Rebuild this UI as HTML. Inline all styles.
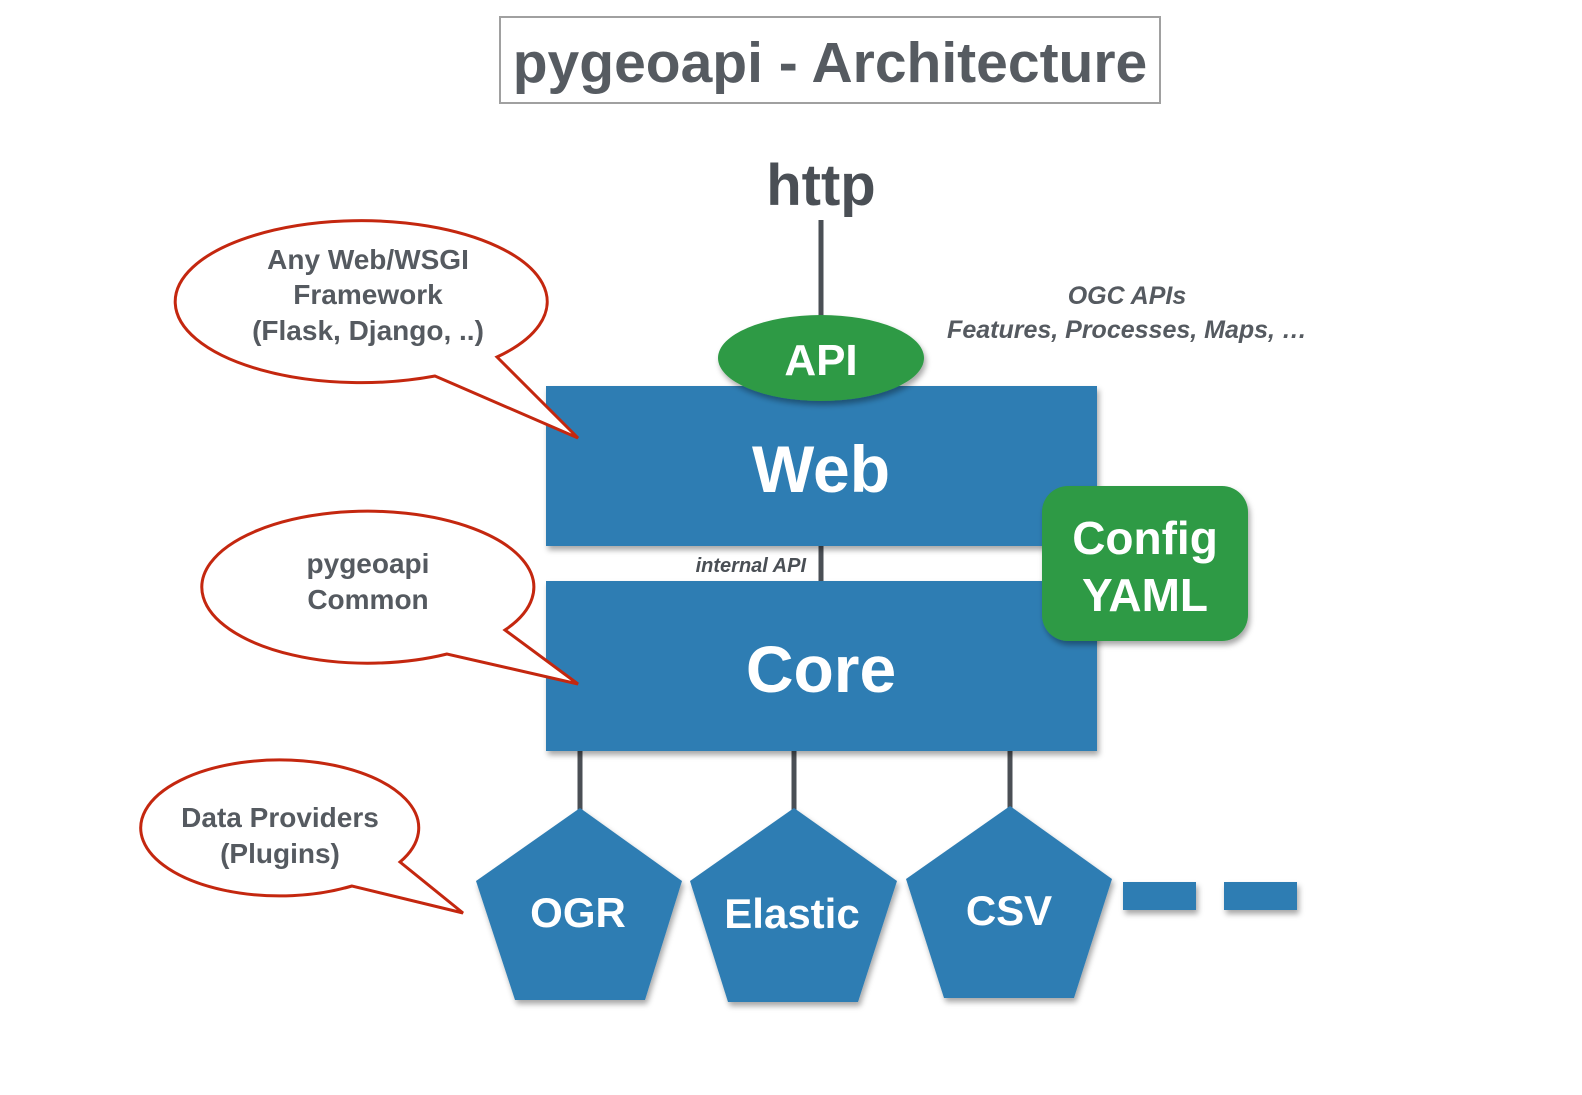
<!DOCTYPE html>
<html><head><meta charset="utf-8"><style>
html,body{margin:0;padding:0;background:#fff;}
svg{display:block;}
text{font-family:"Liberation Sans",sans-serif;font-weight:bold;}
</style></head><body>
<svg width="1582" height="1095" viewBox="0 0 1582 1095" xmlns="http://www.w3.org/2000/svg">
<defs>
<filter id="sh" x="-10%" y="-10%" width="130%" height="130%"><feDropShadow dx="2" dy="4" stdDeviation="3" flood-color="#000" flood-opacity="0.35"/></filter>
</defs>
<rect x="500" y="17" width="660" height="86" fill="#fff" stroke="#a0a0a0" stroke-width="2"/>
<text x="830" y="82" font-size="57" fill="#565b61" text-anchor="middle">pygeoapi - Architecture</text>
<text x="821" y="205" font-size="58" fill="#4a4f55" text-anchor="middle">http</text>
<line x1="821" y1="220" x2="821" y2="320" stroke="#4a4f55" stroke-width="5"/>
<text x="1127" y="304" font-size="25" fill="#555a60" text-anchor="middle" font-style="italic">OGC APIs</text>
<text x="1127" y="338" font-size="25" fill="#555a60" text-anchor="middle" font-style="italic">Features, Processes, Maps, …</text>
<line x1="821" y1="540" x2="821" y2="585" stroke="#4a4f55" stroke-width="5"/>
<text x="806" y="572" font-size="20" fill="#4a4f55" text-anchor="end" font-style="italic">internal API</text>
<g stroke="#4a4f55" stroke-width="5">
<line x1="580" y1="748" x2="580" y2="812"/>
<line x1="794" y1="748" x2="794" y2="812"/>
<line x1="1010" y1="748" x2="1010" y2="812"/>
</g>
<rect x="546" y="386" width="551" height="160" fill="#2e7db3" filter="url(#sh)"/>
<text x="821" y="492" font-size="66" fill="#fff" text-anchor="middle">Web</text>
<rect x="546" y="581" width="551" height="170" fill="#2e7db3" filter="url(#sh)"/>
<text x="821" y="692" font-size="66" fill="#fff" text-anchor="middle">Core</text>
<ellipse cx="821" cy="358" rx="103" ry="43" fill="#2e9a45" filter="url(#sh)"/>
<text x="821" y="375" font-size="44" fill="#fff" text-anchor="middle">API</text>
<rect x="1042" y="486" width="206" height="155" rx="26" fill="#2e9a45" filter="url(#sh)"/>
<text x="1145" y="554" font-size="46" fill="#fff" text-anchor="middle">Config</text>
<text x="1145" y="611" font-size="46" fill="#fff" text-anchor="middle">YAML</text>
<g fill="#2e7db3" filter="url(#sh)">
<polygon points="580,808 682,881 645,1000 515,1000 476,881"/>
<polygon points="794,808 897,881 858,1002 728,1002 690,881"/>
<polygon points="1010,806 1112,879 1074,998 944,998 906,879"/>
<rect x="1123" y="882" width="73" height="28"/>
<rect x="1224" y="882" width="73" height="28"/>
</g>
<text x="578" y="927" font-size="42" fill="#fff" text-anchor="middle">OGR</text>
<text x="792" y="928" font-size="42" fill="#fff" text-anchor="middle">Elastic</text>
<text x="1009" y="925" font-size="42" fill="#fff" text-anchor="middle">CSV</text>
<g fill="#fff" stroke="#c4270f" stroke-width="3" stroke-linejoin="miter">
<path d="M 497,357 L 578,438 L 435,376 A 186 81 0 1 1 497,357 Z"/>
<path d="M 505,630 L 578,684 L 447,654 A 166 76 0 1 1 505,630 Z"/>
<path d="M 400,862 L 463,913 L 352,886 A 139 68 0 1 1 400,862 Z"/>
</g>
<g font-size="28" fill="#555a60" text-anchor="middle">
<text x="368" y="269">Any Web/WSGI</text>
<text x="368" y="304">Framework</text>
<text x="368" y="340">(Flask, Django, ..)</text>
<text x="368" y="573">pygeoapi</text>
<text x="368" y="609">Common</text>
<text x="280" y="827">Data Providers</text>
<text x="280" y="863">(Plugins)</text>
</g>
</svg>
</body></html>
